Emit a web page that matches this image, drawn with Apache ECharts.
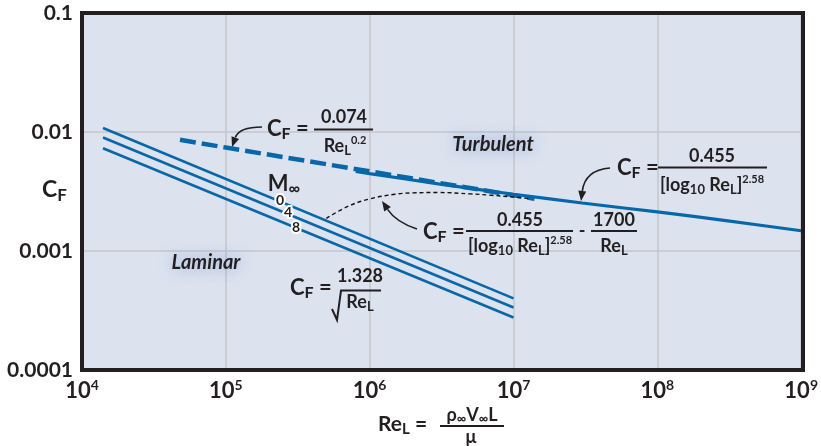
<!DOCTYPE html>
<html>
<head>
<meta charset="utf-8">
<script src="https://cdn.jsdelivr.net/npm/echarts@6/dist/echarts.min.js"></script>
<style>
  html, body { margin: 0; padding: 0; background: #ffffff; }
  #chart { width: 821px; height: 446px; }
</style>
</head>
<body>
<div id="chart"></div>
<script>
// Skin-friction coefficient of a flat plate versus Reynolds number (log-log)

// Laminar (Blasius) lines for three free-stream Mach numbers
const laminarRe = [1.4e4, 1e7];
const laminarM0 = [0.0108, 0.00040];
const laminarM4 = [0.0090, 0.000335];
const laminarM8 = [0.0073, 0.000276];

// Turbulent, 0.074 / Re^0.2 (dashed)
const prandtlRe = [4.8e4, 1e5, 1e6, 1.4e7];
const prandtlCf = [0.0086, 0.0074, 0.00467, 0.00275];

// Turbulent, 0.455 / (log10 Re)^2.58 (solid)
const schlichtingRe = [8e5, 1e6, 3e6, 1e7, 3e7, 1e8, 3e8, 1e9];
const schlichtingCf = [0.00466, 0.00447, 0.00367, 0.00300, 0.00253, 0.00213, 0.00180, 0.00148];

// Transitional curve with the 1700/Re correction
const transitionRe = [5e5, 7e5, 1e6, 1.5e6, 2e6, 3e6, 5e6, 7e6, 1e7, 1.3e7];
const transitionCf = [0.00188, 0.00236, 0.00274, 0.00300, 0.00308, 0.00310, 0.00302, 0.00294, 0.00284, 0.00276];

// Tick labels
const xTickExps = ['4', '5', '6', '7', '8', '9'];
const yTickLabels = ['0.0001', '0.001', '0.01', '0.1'];

const INK = '#231f20';
const BLUE = '#0768a9';
const FONT = 'Lato, "Open Sans", sans-serif';

const pairs = (xs, ys) => xs.map((x, i) => [x, ys[i]]);

const chart = echarts.init(document.getElementById('chart'), null, { renderer: 'canvas' });

// plot frame geometry (pixels)
const G = { left: 82, top: 13, width: 721, height: 357 };

// shared rich-text styles for the formula annotations
const RS = {
  big:  { fontSize: 22, fontWeight: 'bold', fontFamily: FONT, fill: INK, lineHeight: 26, verticalAlign: 'middle' },
  sub:  { fontSize: 16, fontWeight: 'bold', fontFamily: FONT, fill: INK, lineHeight: 12, verticalAlign: 'bottom' },
  num:  { fontSize: 18, fontWeight: 'bold', fontFamily: FONT, fill: INK, lineHeight: 22, verticalAlign: 'middle' },
  nsub: { fontSize: 13, fontWeight: 'bold', fontFamily: FONT, fill: INK, lineHeight: 10, verticalAlign: 'bottom' },
  nsup: { fontSize: 11, fontWeight: 'bold', fontFamily: FONT, fill: INK, lineHeight: 9, verticalAlign: 'top' },
  ax:   { fontSize: 23, fontWeight: 'bold', fontFamily: FONT, fill: INK, lineHeight: 28, verticalAlign: 'middle' },
  axs:  { fontSize: 17, fontWeight: 'bold', fontFamily: FONT, fill: INK, lineHeight: 12, verticalAlign: 'bottom' },
  xt:   { fontSize: 21, fontWeight: 'bold', fontFamily: FONT, fill: INK, lineHeight: 26, verticalAlign: 'middle' },
  xts:  { fontSize: 15, fontWeight: 'bold', fontFamily: FONT, fill: INK, lineHeight: 10, verticalAlign: 'bottom' },
  xn:   { fontSize: 18, fontWeight: 'bold', fontFamily: FONT, fill: INK, lineHeight: 20, verticalAlign: 'middle' },
  xns:  { fontSize: 13, fontWeight: 'bold', fontFamily: FONT, fill: INK, lineHeight: 9, verticalAlign: 'bottom' }
};

function tx(x, y, text, align, extra) {
  return Object.assign({
    type: 'text', x: x, y: y, z: 60,
    style: { text: text, rich: RS, align: align || 'left', verticalAlign: 'middle', fill: INK, font: 'bold 18px ' + FONT }
  }, extra || {});
}
function bar(x1, x2, y) {
  return { type: 'line', z: 60, shape: { x1: x1, y1: y, x2: x2, y2: y }, style: { stroke: INK, lineWidth: 2 } };
}
function arrow(x1, y1, cx, cy, x2, y2) {
  const a = Math.atan2(y2 - cy, x2 - cx);
  const L = 10, W = 4;
  const bx = x2 - L * Math.cos(a), by = y2 - L * Math.sin(a);
  const px = -Math.sin(a) * W, py = Math.cos(a) * W;
  return [
    { type: 'bezierCurve', z: 60, shape: { x1: x1, y1: y1, x2: bx, y2: by, cpx1: cx, cpy1: cy },
      style: { stroke: INK, lineWidth: 1.6, fill: null } },
    { type: 'polygon', z: 60, shape: { points: [[x2, y2], [bx + px, by + py], [bx - px, by - py]] },
      style: { fill: INK } }
  ];
}
function machLabel(x, y, t) {
  return { type: 'text', x: x, y: y, z: 60,
    style: { text: t, align: 'center', verticalAlign: 'middle', fill: INK,
      font: 'bold 14px ' + FONT, stroke: '#ffffff', lineWidth: 4, strokeFirst: true } };
}
function regionLabel(x, y, t) {
  return { type: 'text', x: x, y: y, z: 60,
    style: { text: t, align: 'center', verticalAlign: 'middle', fill: INK, font: 'italic bold 20px ' + FONT,
      textShadowColor: 'rgba(90,130,200,0.55)', textShadowBlur: 14 } };
}

const CF = '{big|C}{sub|F}{big| =}';
const LOGDEN = '{num|[log}{nsub|10}{num| Re}{nsub|L}{num|]}{nsup|2.58}';

const annotations = [
  // frame
  { type: 'rect', z: 80, shape: { x: G.left, y: G.top, width: G.width, height: G.height },
    style: { fill: null, stroke: INK, lineWidth: 4 } },

  // axis titles
  tx(42, 190, '{ax|C}{axs|F}'),
  tx(378, 424, '{xt|Re}{xts|L}{xt| =}'),
  tx(472, 415, '{xn|ρ}{xns|∞}{xn|V}{xns|∞}{xn|L}', 'center'),
  bar(440, 504, 426),
  tx(471, 437, '{xn|μ}', 'center'),

  // region names
  regionLabel(493, 145, 'Turbulent'),
  regionLabel(206, 263, 'Laminar'),

  // Mach number labels on laminar lines
  tx(284, 184, '{big|M}{sub|∞}', 'center'),
  machLabel(280, 200, '0'),
  machLabel(288, 212.5, '4'),
  machLabel(296, 227, '8'),

  // 0.074 / Re^0.2
  tx(267, 129, CF),
  tx(344, 117, '{num|0.074}', 'center'),
  bar(314, 373, 129.5),
  tx(345, 146, '{num|Re}{nsub|L}{nsup|0.2}', 'center'),
  ...arrow(262, 127, 239, 127, 232, 147),

  // 0.455 / (log Re)^2.58
  tx(617, 168, CF),
  tx(712, 156, '{num|0.455}', 'center'),
  bar(658, 767, 167.5),
  tx(712, 185, LOGDEN, 'center'),
  ...arrow(610, 168, 585, 170, 581, 201),

  // transitional formula
  tx(423, 232, CF),
  tx(520, 220, '{num|0.455}', 'center'),
  bar(466, 573, 231),
  tx(520, 246, LOGDEN, 'center'),
  tx(582, 231, '{num|-}', 'center'),
  tx(614, 220, '{num|1700}', 'center'),
  bar(591, 637, 231),
  tx(614, 246, '{num|Re}{nsub|L}', 'center'),
  ...arrow(417, 229, 396, 222, 382, 201),

  // laminar formula 1.328 / sqrt(Re)
  tx(290, 288, CF),
  tx(360, 276, '{num|1.328}', 'center'),
  { type: 'polyline', z: 60, shape: { points: [[332, 309], [337, 320], [341, 290.5], [381, 290.5]] },
    style: { stroke: INK, lineWidth: 2, fill: null } },
  tx(360, 302, '{num|Re}{nsub|L}', 'center')
];

const lamStyle = { color: BLUE, width: 2.6 };

const option = {
  animation: false,
  backgroundColor: '#ffffff',
  grid: {
    left: G.left, top: G.top, width: G.width, height: G.height,
    show: true, backgroundColor: '#dce3ef', borderWidth: 0
  },
  xAxis: {
    type: 'log', logBase: 10, min: 1e4, max: 1e9,
    axisLine: { show: false }, axisTick: { show: false }, minorTick: { show: false },
    splitLine: { show: true, lineStyle: { color: '#c3c6cd', width: 1.5 } },
    axisLabel: {
      margin: 8,
      formatter: v => '{b|10}{s|' + xTickExps[Math.round(Math.log10(v)) - 4] + '}',
      rich: {
        b: { fontSize: 22, fontWeight: 'bold', fontFamily: FONT, color: INK, lineHeight: 26, verticalAlign: 'middle' },
        s: { fontSize: 14, fontWeight: 'bold', fontFamily: FONT, color: INK, lineHeight: 12, verticalAlign: 'top' }
      }
    }
  },
  yAxis: {
    type: 'log', logBase: 10, min: 1e-4, max: 0.1,
    axisLine: { show: false }, axisTick: { show: false }, minorTick: { show: false },
    splitLine: { show: true, lineStyle: { color: '#c3c6cd', width: 1.5 } },
    axisLabel: {
      margin: 9,
      formatter: v => yTickLabels[Math.round(Math.log10(v)) + 4],
      fontSize: 21, fontWeight: 'bold', fontFamily: FONT, color: INK
    }
  },
  series: [
    { name: 'M0', type: 'line', data: pairs(laminarRe, laminarM0), symbol: 'none', lineStyle: lamStyle, z: 3 },
    { name: 'M4', type: 'line', data: pairs(laminarRe, laminarM4), symbol: 'none', lineStyle: lamStyle, z: 3 },
    { name: 'M8', type: 'line', data: pairs(laminarRe, laminarM8), symbol: 'none', lineStyle: lamStyle, z: 3 },
    { name: 'Prandtl', type: 'line', data: pairs(prandtlRe, prandtlCf), symbol: 'none',
      lineStyle: { color: BLUE, width: 4.5, type: [16, 6] }, z: 4 },
    { name: 'Schlichting', type: 'line', data: pairs(schlichtingRe, schlichtingCf), symbol: 'none', smooth: 0.3,
      lineStyle: { color: BLUE, width: 3.2 }, z: 4 },
    { name: 'Transition', type: 'line', data: pairs(transitionRe, transitionCf), symbol: 'none', smooth: 0.4,
      lineStyle: { color: '#111111', width: 1.4, type: [4, 3] }, z: 5 }
  ],
  graphic: { elements: annotations }
};

chart.setOption(option);
</script>
</body>
</html>
